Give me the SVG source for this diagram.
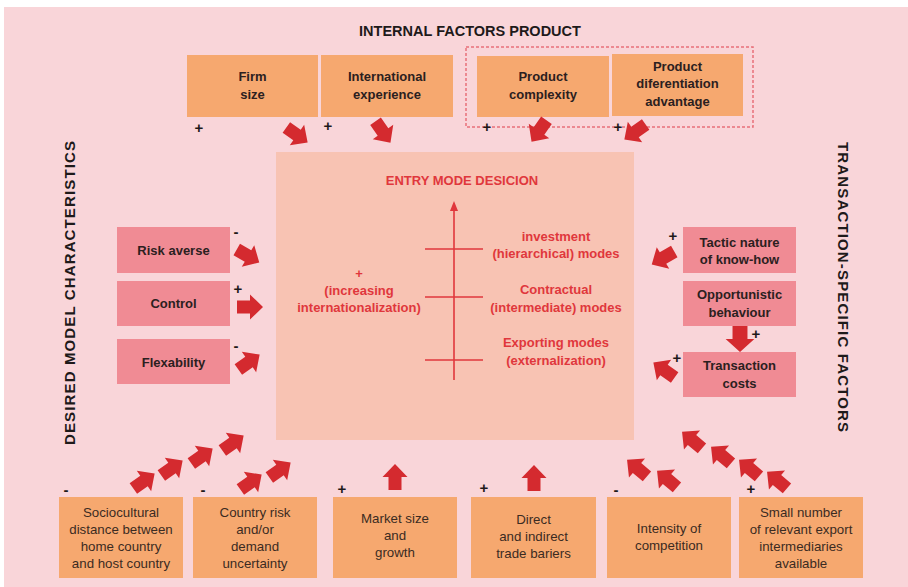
<svg xmlns="http://www.w3.org/2000/svg" xmlns:xlink="http://www.w3.org/1999/xlink" width="908" height="587" viewBox="0 0 908 587">
<style>
.bg{fill:#f9d5d9}
.core{fill:#f8c3b3}
.or{fill:#f6a86f}
.pk{fill:#f08b94}
.lb{font-family:"Liberation Sans",Arial,sans-serif;font-weight:bold;font-size:13px;fill:#2b2020;text-anchor:middle}
.lr{font-family:"Liberation Sans",Arial,sans-serif;font-size:13.3px;fill:#3b2b22;text-anchor:middle}
.rd{font-family:"Liberation Sans",Arial,sans-serif;font-weight:bold;font-size:13px;fill:#e0373c;text-anchor:middle}
.hd{font-family:"Liberation Sans",Arial,sans-serif;font-weight:bold;font-size:14.5px;fill:#1e1a1a;text-anchor:middle}
.vh{font-family:"Liberation Sans",Arial,sans-serif;font-weight:bold;font-size:15px;fill:#1e1a1a;text-anchor:middle}
.sg{font-family:"Liberation Sans",Arial,sans-serif;font-weight:bold;font-size:15px;fill:#1e1a1a;text-anchor:middle}
.ar{fill:#d42a2f}
</style>
<defs>
<path id="fa" d="M-13,-6.5 H0 V-12.5 L13,0 L0,12.5 V6.5 H-13 Z"/>
</defs>
<rect class="bg" x="4" y="7" width="904" height="580"/>
<text class="hd" x="470" y="36">INTERNAL FACTORS PRODUCT</text>
<text class="vh" transform="translate(75,293) rotate(-90)" textLength="304" lengthAdjust="spacing">DESIRED MODEL CHARACTERISTICS</text>
<text class="vh" transform="translate(838,287) rotate(90)" textLength="290" lengthAdjust="spacing">TRANSACTION-SPECIFIC FACTORS</text>

<g id="center">
<rect class="core" x="276" y="152" width="358" height="288"/>
<text class="rd" x="462" y="185">ENTRY MODE DESICION</text>
<line x1="454" y1="210" x2="454" y2="380" stroke="#e0373c" stroke-width="1.6"/>
<path d="M454,201 L450,211 L458,211 Z" fill="#e0373c"/>
<g stroke="#e0373c" stroke-width="1.6">
<line x1="425" y1="249" x2="483" y2="249"/>
<line x1="425" y1="297" x2="483" y2="297"/>
<line x1="425" y1="360" x2="483" y2="360"/>
</g>
<text class="rd" x="556" y="241">investment</text>
<text class="rd" x="556" y="258">(hierarchical) modes</text>
<text class="rd" x="556" y="294">Contractual</text>
<text class="rd" x="556" y="312">(intermediate) modes</text>
<text class="rd" x="556" y="347">Exporting modes</text>
<text class="rd" x="556" y="365">(externalization)</text>
<text class="rd" x="359" y="278">+</text>
<text class="rd" x="359" y="295">(increasing</text>
<text class="rd" x="359" y="312">internationalization)</text>
</g>

<g id="firm-size"><rect class="or" x="187" y="55" width="131" height="62"/><text class="lb" x="252.5" y="81">Firm</text><text class="lb" x="252.5" y="99">size</text></g>
<g id="intl-exp"><rect class="or" x="321" y="55" width="132" height="62"/><text class="lb" x="387" y="81">International</text><text class="lb" x="387" y="99">experience</text></g>
<rect x="466" y="47" width="287" height="80" fill="none" stroke="#e8707a" stroke-width="1.5" stroke-dasharray="3,2"/>
<g id="prod-complexity"><rect class="or" x="477" y="56" width="132" height="61"/><text class="lb" x="543" y="81">Product</text><text class="lb" x="543" y="99">complexity</text></g>
<g id="prod-diff"><rect class="or" x="612" y="54" width="131" height="62"/><text class="lb" x="677.5" y="71">Product</text><text class="lb" x="677.5" y="88">diferentiation</text><text class="lb" x="677.5" y="106">advantage</text></g>

<g id="risk"><rect class="pk" x="117" y="227" width="113" height="46"/><text class="lb" x="173.5" y="255">Risk averse</text></g>
<g id="control"><rect class="pk" x="117" y="281" width="113" height="45"/><text class="lb" x="173.5" y="308">Control</text></g>
<g id="flex"><rect class="pk" x="117" y="339" width="113" height="45"/><text class="lb" x="173.5" y="367">Flexability</text></g>

<g id="tactic"><rect class="pk" x="683" y="227" width="113" height="46"/><text class="lb" x="739.5" y="247">Tactic nature</text><text class="lb" x="739.5" y="264">of know-how</text></g>
<g id="opport"><rect class="pk" x="683" y="281" width="113" height="45"/><text class="lb" x="739.5" y="299">Opportunistic</text><text class="lb" x="739.5" y="317">behaviour</text></g>
<g id="transcost"><rect class="pk" x="683" y="352" width="113" height="45"/><text class="lb" x="739.5" y="370">Transaction</text><text class="lb" x="739.5" y="388">costs</text></g>

<g id="socio"><rect class="or" x="59" y="497" width="124" height="81"/><text class="lr" x="121" y="517">Sociocultural</text><text class="lr" x="121" y="534">distance between</text><text class="lr" x="121" y="551">home country</text><text class="lr" x="121" y="568">and host country</text></g>
<g id="countryrisk"><rect class="or" x="193" y="497" width="124" height="81"/><text class="lr" x="255" y="517">Country risk</text><text class="lr" x="255" y="534">and/or</text><text class="lr" x="255" y="551">demand</text><text class="lr" x="255" y="568">uncertainty</text></g>
<g id="market"><rect class="or" x="333" y="497" width="124" height="81"/><text class="lr" x="395" y="523">Market size</text><text class="lr" x="395" y="540">and</text><text class="lr" x="395" y="557">growth</text></g>
<g id="barriers"><rect class="or" x="471" y="497" width="125" height="81"/><text class="lr" x="533.5" y="524">Direct</text><text class="lr" x="533.5" y="541">and indirect</text><text class="lr" x="533.5" y="558">trade bariers</text></g>
<g id="intensity"><rect class="or" x="607" y="497" width="124" height="81"/><text class="lr" x="669" y="533">Intensity of</text><text class="lr" x="669" y="550">competition</text></g>
<g id="small"><rect class="or" x="739" y="497" width="124" height="81"/><text class="lr" x="801" y="517">Small number</text><text class="lr" x="801" y="534">of relevant export</text><text class="lr" x="801" y="551">intermediaries</text><text class="lr" x="801" y="568">available</text></g>

<g id="signs">
<text class="sg" x="199" y="133">+</text>
<text class="sg" x="328" y="131">+</text>
<text class="sg" x="487" y="132">+</text>
<text class="sg" x="618" y="132">+</text>
<text class="sg" x="236" y="237">-</text>
<text class="sg" x="238" y="294">+</text>
<text class="sg" x="236" y="351">-</text>
<text class="sg" x="673" y="241">+</text>
<text class="sg" x="756" y="339">+</text>
<text class="sg" x="677" y="363">+</text>
<text class="sg" x="66" y="495">-</text>
<text class="sg" x="203" y="495">-</text>
<text class="sg" x="342" y="494">+</text>
<text class="sg" x="484" y="493">+</text>
<text class="sg" x="616" y="495">-</text>
<text class="sg" x="751" y="494">+</text>
</g>

<g id="connectors" class="ar">
<use xlink:href="#fa" transform="translate(297,135) rotate(35)"/>
<use xlink:href="#fa" transform="translate(383,132) rotate(55)"/>
<use xlink:href="#fa" transform="translate(539,131) rotate(125)"/>
<use xlink:href="#fa" transform="translate(635,132) rotate(145)"/>
<use xlink:href="#fa" transform="translate(248,256) rotate(30)"/>
<use xlink:href="#fa" transform="translate(250,307)"/>
<use xlink:href="#fa" transform="translate(249,362) rotate(-35)"/>
<use xlink:href="#fa" transform="translate(663,258) rotate(150)"/>
<use xlink:href="#fa" transform="translate(664,370) rotate(-145)"/>
<use xlink:href="#fa" transform="translate(740,339) rotate(90) scale(1,1.15)"/>
<use xlink:href="#fa" transform="translate(144,481) rotate(-35)"/>
<use xlink:href="#fa" transform="translate(172,468) rotate(-35)"/>
<use xlink:href="#fa" transform="translate(202,456) rotate(-35)"/>
<use xlink:href="#fa" transform="translate(233,443) rotate(-35)"/>
<use xlink:href="#fa" transform="translate(251,482) rotate(-35)"/>
<use xlink:href="#fa" transform="translate(280,470) rotate(-35)"/>
<use xlink:href="#fa" transform="translate(395,477) rotate(-90)"/>
<use xlink:href="#fa" transform="translate(534,478) rotate(-90)"/>
<use xlink:href="#fa" transform="translate(637,468) rotate(-140)"/>
<use xlink:href="#fa" transform="translate(667,479) rotate(-140)"/>
<use xlink:href="#fa" transform="translate(692,440) rotate(-140)"/>
<use xlink:href="#fa" transform="translate(721,455) rotate(-140)"/>
<use xlink:href="#fa" transform="translate(749,468) rotate(-140)"/>
<use xlink:href="#fa" transform="translate(777,480) rotate(-140)"/>
</g>
</svg>
